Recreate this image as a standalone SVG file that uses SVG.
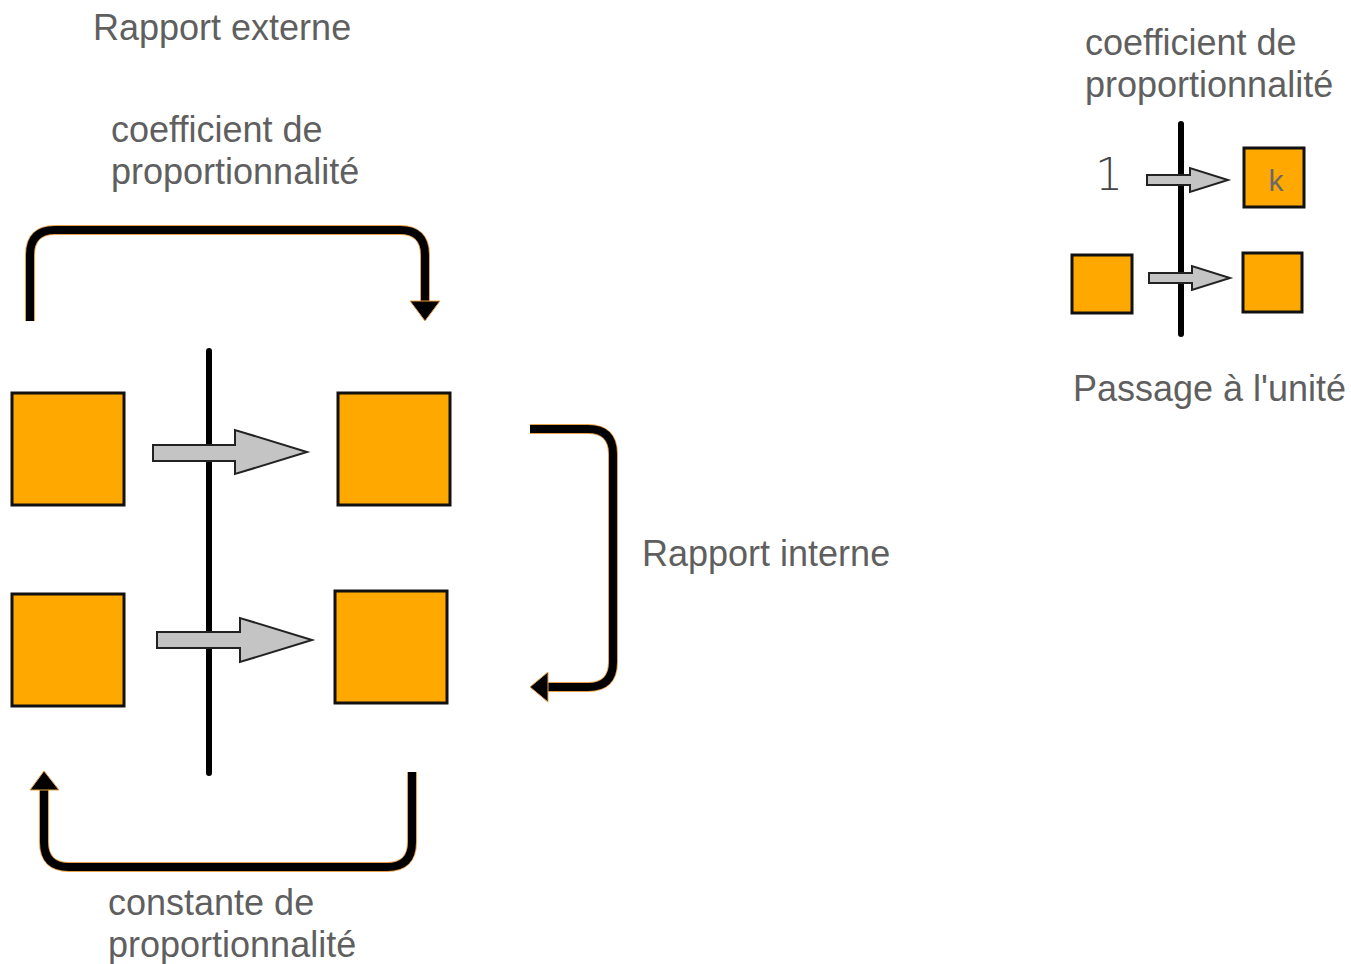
<svg xmlns="http://www.w3.org/2000/svg" width="1351" height="964" viewBox="0 0 1351 964">
<style>
.t{font-family:"Liberation Sans",Arial,sans-serif;font-size:36px;fill:#5f5f5f}
.box{fill:#ffa800;stroke:#111;stroke-width:3}
.ga{fill:#c4c4c4;stroke:#222;stroke-width:2;stroke-linejoin:miter}
.axis{stroke:#000;stroke-width:6;stroke-linecap:round;fill:none}
.cg{fill:none;stroke:#e9a04a;stroke-width:10}
.c{fill:none;stroke:#000;stroke-width:8}
.ah{fill:#000;stroke:#e9a04a;stroke-width:1}
</style>
<rect width="1351" height="964" fill="#fff"/>
<g id="labels">
<text class="t" x="93" y="40">Rapport externe</text>
<text class="t" x="111" y="142">coefficient de</text>
<text class="t" x="111" y="184">proportionnalité</text>
<text class="t" x="642" y="566">Rapport interne</text>
<text class="t" x="108" y="915">constante de</text>
<text class="t" x="108" y="957">proportionnalité</text>
<text class="t" x="1085" y="55">coefficient de</text>
<text class="t" x="1085" y="97">proportionnalité</text>
<text class="t" x="1073" y="401">Passage à l'unité</text>
</g>
<g id="axes">
<line class="axis" x1="209" y1="351" x2="209" y2="773"/>
<line class="axis" x1="1181" y1="124" x2="1181" y2="334"/>
</g>
<g id="box-a1"><rect class="box" x="12" y="393" width="112" height="112"/></g>
<g id="box-b1"><rect class="box" x="338" y="393" width="112" height="112"/></g>
<g id="box-a2"><rect class="box" x="12" y="594" width="112" height="112"/></g>
<g id="box-b2"><rect class="box" x="335" y="591" width="112" height="112"/></g>
<g id="box-k"><rect class="box" x="1244" y="148" width="60" height="59"/><text x="1276" y="191" text-anchor="middle" style="font-family:'Liberation Sans',Arial,sans-serif;font-size:30px;fill:#6a6a6a">k</text></g>
<g id="one"><text x="1109" y="190" text-anchor="middle" style="font-family:'DejaVu Sans','Liberation Sans',sans-serif;font-size:44px;font-weight:200;fill:#444">1</text></g>
<g id="box-u2"><rect class="box" x="1072" y="255" width="60" height="58"/></g>
<g id="box-v2"><rect class="box" x="1243" y="253" width="59" height="59"/></g>
<g id="connectors">
<path class="ga" d="M153,445 H235 V430 L307,452 L235,474 V461 H153 Z"/>
<path class="ga" d="M157,632 H240 V618 L312,640 L240,662 V648 H157 Z"/>
<path class="ga" d="M1147,175 H1190 V168 L1228,180 L1190,192 V185 H1147 Z"/>
<path class="ga" d="M1149,273 H1192 V266 L1230,278 L1192,290 V283 H1149 Z"/>
<path class="cg" d="M30,321 V255 Q30,230 55,230 H400 Q425,230 425,255 V302"/>
<path class="c" d="M30,321 V255 Q30,230 55,230 H400 Q425,230 425,255 V302"/>
<path class="ah" d="M410,301 H440 L425,321 Z"/>
<path class="cg" d="M530,429 H588 Q613,429 613,454 V662 Q613,687 588,687 H547"/>
<path class="c" d="M530,429 H588 Q613,429 613,454 V662 Q613,687 588,687 H547"/>
<path class="ah" d="M548,672 V702 L530,687 Z"/>
<path class="cg" d="M412,772 V842 Q412,867 387,867 H69 Q44,867 44,842 V790"/>
<path class="c" d="M412,772 V842 Q412,867 387,867 H69 Q44,867 44,842 V790"/>
<path class="ah" d="M30,790 H59 L44,771 Z"/>
</g>
</svg>
